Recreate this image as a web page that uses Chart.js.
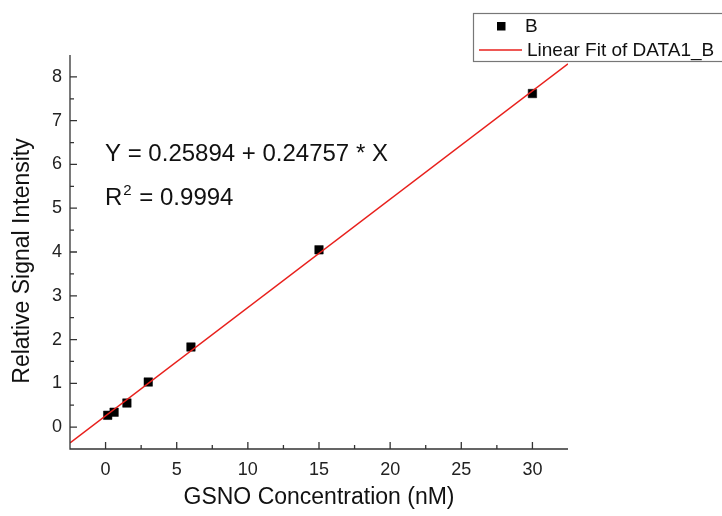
<!DOCTYPE html>
<html><head><meta charset="utf-8">
<script src="https://cdn.jsdelivr.net/npm/chart.js@4.4.0/dist/chart.umd.min.js"></script>
<style>html,body{margin:0;padding:0;background:#fff;}#wrap{width:722px;height:516px;}</style>
</head><body><div id="wrap"><canvas id="c" width="722" height="516"></canvas></div>
<script>
const concentrations = [0.15, 0.6, 1.5, 3, 6, 15, 30];
const intensities = [0.27, 0.34, 0.55, 1.03, 1.83, 4.05, 7.62];
const fitX = [-2.5, 32.5];
const fitY = [-0.36, 8.30];
const xTicks = [0, 5, 10, 15, 20, 25, 30];
const yTicks = [0, 1, 2, 3, 4, 5, 6, 7, 8];
const seriesName = 'B';
const fitName = 'Linear Fit of DATA1_B';
const xTitle = 'GSNO Concentration (nM)';
const yTitle = 'Relative Signal Intensity';
const eqLine = 'Y = 0.25894 + 0.24757 * X';
const r2Value = '0.9994';

const FONT = "'Liberation Sans', Arial, sans-serif";
const AXIS = '#333';
const FITCOLOR = '#e8201c';

const axesPlugin = {
  id: 'originAxes',
  afterDatasetsDraw(chart) {
    const ctx = chart.ctx, a = chart.chartArea;
    const xs = chart.scales.x, ys = chart.scales.y;
    ctx.save();
    ctx.strokeStyle = AXIS; ctx.lineWidth = 1.3;
    ctx.beginPath();
    ctx.moveTo(a.left, a.top); ctx.lineTo(a.left, a.bottom); ctx.lineTo(a.right, a.bottom);
    ctx.stroke();
    ctx.beginPath();
    xTicks.forEach(v => {
      const px = xs.getPixelForValue(v);
      ctx.moveTo(px, a.bottom); ctx.lineTo(px, a.bottom - 7);
    });
    for (let i = 0; i < xTicks.length + 1; i++) {
      const v = (i === 0 ? xTicks[0] - 2.5 : xTicks[i - 1] + 2.5);
      if (v <= xs.min || v >= xs.max) continue;
      const px = xs.getPixelForValue(v);
      ctx.moveTo(px, a.bottom); ctx.lineTo(px, a.bottom - 4);
    }
    yTicks.forEach(v => {
      const py = ys.getPixelForValue(v);
      ctx.moveTo(a.left, py); ctx.lineTo(a.left + 7, py);
    });
    yTicks.forEach(v => {
      const m = v + 0.5;
      if (m >= ys.max) return;
      const py = ys.getPixelForValue(m);
      ctx.moveTo(a.left, py); ctx.lineTo(a.left + 4, py);
    });
    ctx.stroke();
    ctx.restore();
  },
  afterDraw(chart) {
    const ctx = chart.ctx;
    ctx.save();
    ctx.fillStyle = '#111';
    ctx.font = '23px ' + FONT;
    ctx.textAlign = 'center'; ctx.textBaseline = 'middle';
    ctx.translate(23, 261); ctx.rotate(-Math.PI / 2);
    ctx.fillText(yTitle, 0, 0);
    ctx.restore();

    ctx.save();
    ctx.fillStyle = '#111';
    ctx.textBaseline = 'alphabetic'; ctx.textAlign = 'left';
    ctx.font = '24px ' + FONT;
    ctx.fillText(eqLine, 105, 161);
    ctx.fillText('R', 105, 205);
    const rw = ctx.measureText('R').width;
    ctx.font = '15px ' + FONT;
    ctx.fillText('2', 105 + rw + 1, 195);
    const sw = ctx.measureText('2').width;
    ctx.font = '24px ' + FONT;
    ctx.fillText(' = ' + r2Value, 105 + rw + 1 + sw + 1, 205);

    const d0 = chart.data.datasets[1], d1 = chart.data.datasets[0];
    ctx.fillStyle = '#fff';
    ctx.fillRect(473, 13, 260, 49);
    ctx.strokeStyle = '#777'; ctx.lineWidth = 1.2;
    ctx.strokeRect(473.5, 13.5, 260, 48);
    ctx.fillStyle = d0.backgroundColor;
    ctx.fillRect(497, 22, 8.5, 8.5);
    ctx.strokeStyle = d1.borderColor; ctx.lineWidth = 1.5;
    ctx.beginPath(); ctx.moveTo(479, 50); ctx.lineTo(522, 50); ctx.stroke();
    ctx.fillStyle = '#111';
    ctx.font = '19px ' + FONT;
    ctx.fillText(d0.label, 525, 32);
    ctx.fillText(d1.label, 527, 56);
    ctx.restore();
  }
};

new Chart(document.getElementById('c'), {
  type: 'scatter',
  data: {
    datasets: [
      {
        label: fitName,
        data: fitX.map((x, i) => ({ x, y: fitY[i] })),
        showLine: true,
        borderColor: FITCOLOR,
        borderWidth: 1.5,
        pointRadius: 0,
        order: 0
      },
      {
        label: seriesName,
        data: concentrations.map((x, i) => ({ x, y: intensities[i] })),
        pointStyle: 'rect',
        pointRadius: 6,
        backgroundColor: '#000',
        borderColor: '#000',
        borderWidth: 0.5,
        order: 1
      }
    ]
  },
  options: {
    responsive: false,
    animation: false,
    devicePixelRatio: 1,
    layout: { padding: { left: 0, right: 154, top: 55, bottom: 0 } },
    plugins: { legend: { display: false }, tooltip: { enabled: false } },
    scales: {
      x: {
        type: 'linear', min: -2.5, max: 32.5,
        grid: { display: false, drawTicks: false },
        border: { display: false },
        afterBuildTicks: s => { s.ticks = xTicks.map(v => ({ value: v })); },
        afterFit: s => { s.height = 67; },
        ticks: { color: '#222', font: { family: FONT, size: 18 }, padding: 10, maxRotation: 0 },
        title: { display: true, text: xTitle, color: '#111', font: { family: FONT, size: 23 }, padding: { top: 0, bottom: 5 } }
      },
      y: {
        type: 'linear', min: -0.5, max: 8.5,
        grid: { display: false, drawTicks: false },
        border: { display: false },
        afterBuildTicks: s => { s.ticks = yTicks.map(v => ({ value: v })); },
        afterFit: s => { s.width = 70; },
        ticks: { color: '#222', font: { family: FONT, size: 18 }, padding: 8 }
      }
    }
  },
  plugins: [axesPlugin]
});
</script></body></html>
